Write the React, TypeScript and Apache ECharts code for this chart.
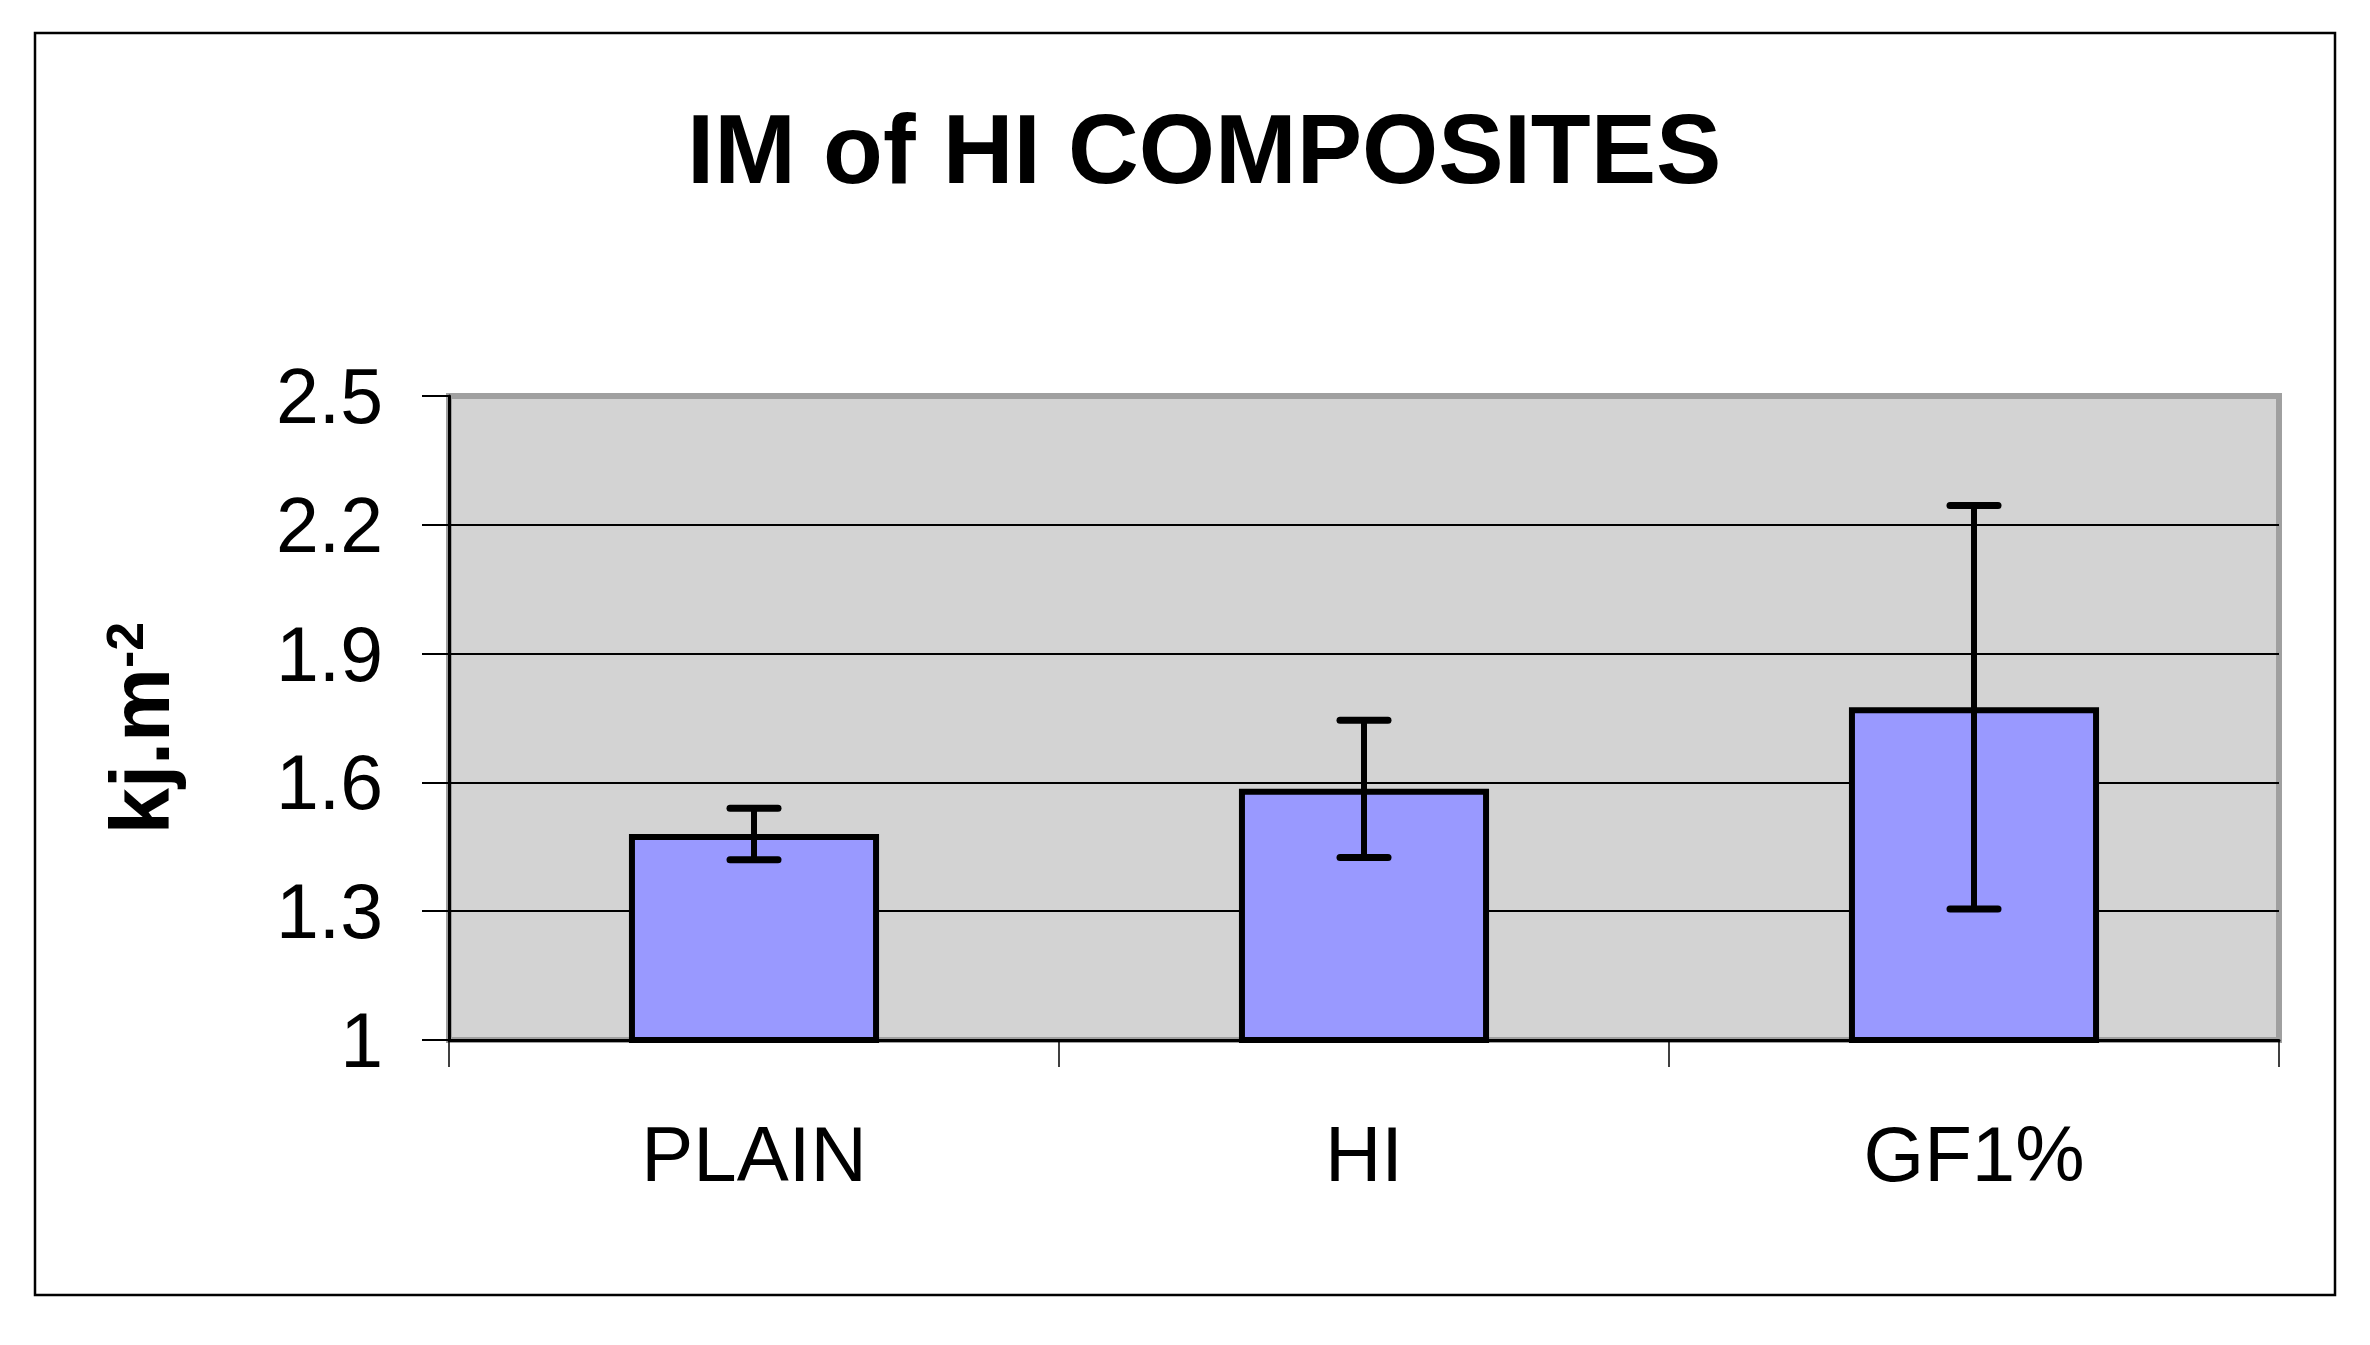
import React, { useEffect, useRef } from "react";
import * as echarts from "echarts";

const categories = ["PLAIN", "HI", "GF1%"];
const means = [1.48, 1.585, 1.775];
const errors = [0.06, 0.16, 0.47];
const yMin = 1;
const yMax = 2.5;
const yInterval = 0.3;
const titleText = "IM of HI COMPOSITES";

const FONT = "'Liberation Sans', Arial, sans-serif";

export default function App() {
  const ref = useRef<HTMLDivElement>(null);

  useEffect(() => {
    if (!ref.current) return;
    const chart = echarts.init(ref.current, null, { renderer: "svg" });
    const errData = categories.map((_, i) => [i, means[i] - errors[i], means[i] + errors[i]]);
    chart.setOption({
      animation: false,
      backgroundColor: "#ffffff",
      title: {
        text: titleText,
        left: 682,
        top: 95,
        textStyle: { fontFamily: FONT, fontSize: 98, fontWeight: "bold", color: "#000" },
      },
      grid: {
        left: 449,
        right: 91,
        top: 396,
        bottom: 305,
        show: true,
        backgroundColor: "#d3d3d3",
        borderColor: "#a0a0a0",
        borderWidth: 6,
      },
      xAxis: {
        type: "category",
        data: categories,
        axisLine: { show: true, lineStyle: { color: "#000", width: 3 } },
        axisTick: { show: true, interval: 0, length: 27, lineStyle: { color: "#000", width: 1.5 } },
        axisLabel: { margin: 75, fontSize: 78, fontFamily: FONT, color: "#000", interval: 0 },
        splitLine: { show: false },
      },
      yAxis: {
        type: "value",
        min: yMin,
        max: yMax,
        interval: yInterval,
        axisLine: { show: true, lineStyle: { color: "#000", width: 3 } },
        axisTick: { show: true, length: 27, lineStyle: { color: "#000", width: 2 } },
        axisLabel: { margin: 66, fontSize: 77, fontFamily: FONT, color: "#000" },
        splitLine: {
          show: true,
          lineStyle: { color: ["#000", "#000", "#000", "#000", "#000", "#a0a0a0"], width: 2 },
        },
      },
      graphic: [
        {
          type: "rect",
          shape: { x: 35, y: 33, width: 2300, height: 1262 },
          style: { fill: "none", stroke: "#000", lineWidth: 2.5 },
          silent: true,
        },
        {
          type: "text",
          x: 140,
          y: 728,
          rotation: Math.PI / 2,
          style: {
            text: "{m|kj.m}{s|-2}",
            align: "center",
            verticalAlign: "middle",
            rich: {
              m: { fontFamily: FONT, fontSize: 83, fontWeight: "bold", fill: "#000" },
              s: {
                fontFamily: FONT,
                fontSize: 52,
                fontWeight: "bold",
                fill: "#000",
                verticalAlign: "top",
              },
            },
          },
        },
      ],
      series: [
        {
          type: "bar",
          data: means,
          barWidth: "41%",
          itemStyle: { color: "#9999ff", borderColor: "#000", borderWidth: 6 },
          z: 2,
        },
        {
          type: "custom",
          data: errData,
          encode: { x: 0, y: [1, 2] },
          z: 5,
          renderItem: (params: any, api: any) => {
            const xi = api.value(0);
            const lo = api.coord([xi, api.value(1)]);
            const hi = api.coord([xi, api.value(2)]);
            const cap = 24;
            return {
              type: "group",
              children: [
                {
                  type: "line",
                  shape: { x1: lo[0], y1: lo[1], x2: hi[0], y2: hi[1] },
                  style: { stroke: "#000", lineWidth: 6 },
                },
                {
                  type: "line",
                  shape: { x1: hi[0] - cap, y1: hi[1], x2: hi[0] + cap, y2: hi[1] },
                  style: { stroke: "#000", lineWidth: 7, lineCap: "round" },
                },
                {
                  type: "line",
                  shape: { x1: lo[0] - cap, y1: lo[1], x2: lo[0] + cap, y2: lo[1] },
                  style: { stroke: "#000", lineWidth: 7, lineCap: "round" },
                },
              ],
            };
          },
        },
      ],
    });
    return () => chart.dispose();
  }, []);

  return (
    <div
      ref={ref}
      style={{ position: "absolute", left: 0, top: 0, width: 2370, height: 1345, background: "#fff" }}
    />
  );
}
